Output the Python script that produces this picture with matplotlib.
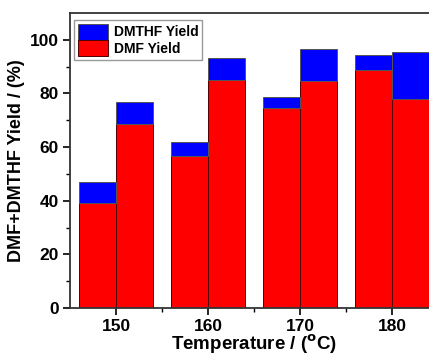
import matplotlib.pyplot as plt
import numpy as np

plt.rcParams['font.family'] = ['Liberation Sans', 'DejaVu Sans']
plt.rcParams['font.weight'] = 'bold'
plt.rcParams['mathtext.default'] = 'bf'

temps = [150, 160, 170, 180]
# two runs per temperature: left bar, right bar
dmf_left = [39.3, 56.8, 74.7, 88.7]
dmf_right = [68.7, 85.1, 84.6, 77.9]
dmthf_left = [7.5, 5.0, 3.9, 5.7]
dmthf_right = [8.1, 8.3, 12.0, 17.4]

bw = 4
x = np.array(temps)

fig = plt.figure(figsize=(4.29, 3.56), dpi=100)
ax = fig.add_axes([70 / 429, 48 / 356, (438 - 70) / 429, (308 - 13) / 356])

ax.bar(x - bw / 2, dmf_left, bw, color='#ff0000', edgecolor='#500000', linewidth=0.7, label='DMF Yield')
ax.bar(x + bw / 2, dmf_right, bw, color='#ff0000', edgecolor='#500000', linewidth=0.7)
ax.bar(x - bw / 2, dmthf_left, bw, bottom=dmf_left, color='#0000ff', edgecolor='#555555', linewidth=0.7,
       label='DMTHF Yield')
ax.bar(x + bw / 2, dmthf_right, bw, bottom=dmf_right, color='#0000ff', edgecolor='#555555', linewidth=0.7)

ax.set_xlim(145, 185)
ax.set_ylim(0, 110)
ax.set_xticks(temps)
ax.set_xticks([155, 165, 175], minor=True)
ax.set_yticks([0, 20, 40, 60, 80, 100])
ax.set_yticks([10, 30, 50, 70, 90], minor=True)
ax.tick_params(which='major', direction='out', length=5, width=1.2, labelsize=12.5, pad=3)
ax.tick_params(which='minor', direction='out', length=3, width=1.0)
for s in ax.spines.values():
    s.set_linewidth(1.3)
    s.set_color('#333333')

ax.set_xlabel('Temperature / ($^{o}$C)', fontsize=13.5, fontweight='bold', labelpad=-1)
ax.set_ylabel('DMF+DMTHF Yield / (%)', fontsize=13, fontweight='bold', labelpad=3.5)

h, l = ax.get_legend_handles_labels()
ax.legend(h[::-1], l[::-1], loc='upper left', bbox_to_anchor=(0.0, 0.99), fontsize=10,
          handlelength=2.2, handleheight=1.4, handletextpad=0.4, labelspacing=0.05,
          borderpad=0.25, borderaxespad=0.3, fancybox=False, edgecolor='#999999', framealpha=1)

fig.savefig('out.png', dpi=100)
